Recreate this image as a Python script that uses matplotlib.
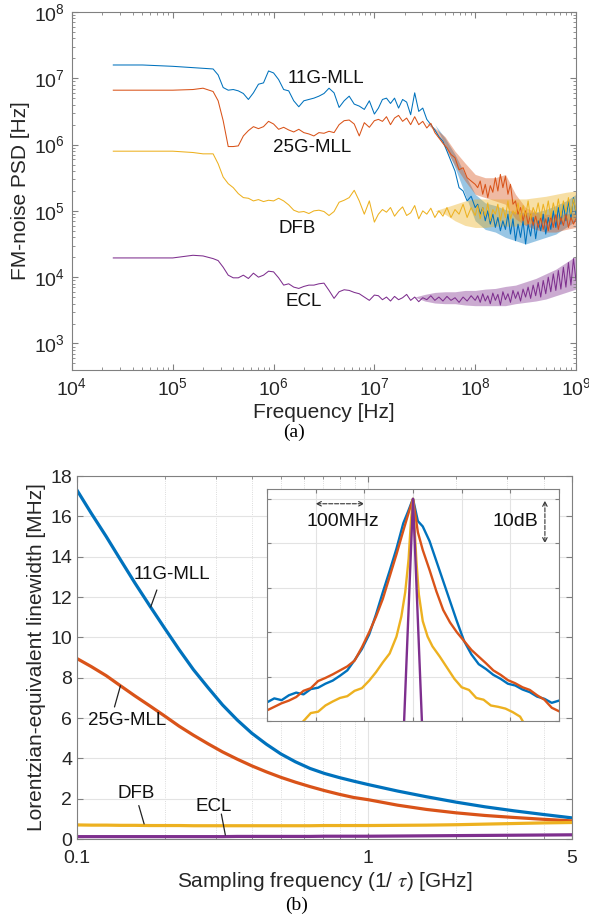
import numpy as np
import matplotlib.pyplot as plt
from matplotlib.ticker import LogLocator, NullFormatter, FixedLocator

plt.rcParams['font.family'] = ['Liberation Sans', 'DejaVu Sans']

blue = '#0072BD'
red = '#D95319'
yellow = '#EDB120'
purple = '#7E2F8E'
txt = '#262626'
edge = '#808080'

# ---- (a) FM-noise PSD, values as log10 ----
freq_exp = [4.41, 4.7, 5.0, 5.2, 5.3, 5.4,
            5.45, 5.5, 5.55, 5.6, 5.65, 5.7, 5.75, 5.8, 5.85, 5.9, 5.95, 6.0,
            6.05, 6.1, 6.15, 6.2, 6.25, 6.3, 6.35, 6.4, 6.45, 6.5, 6.55, 6.6,
            6.65, 6.7, 6.75, 6.8, 6.85, 6.9, 6.95, 7.0,
            7.04, 7.08, 7.12, 7.16, 7.2, 7.24, 7.28, 7.32, 7.36, 7.4, 7.44, 7.48,
            7.52, 7.56, 7.6, 7.64, 7.68, 7.72, 7.76, 7.8, 7.84, 7.88, 7.92, 7.96, 8.0,
            8.025, 8.05, 8.075, 8.1, 8.125, 8.15, 8.175, 8.2, 8.225, 8.25,
            8.275, 8.3, 8.325, 8.35, 8.375, 8.4, 8.425, 8.45, 8.475, 8.5,
            8.525, 8.55, 8.575, 8.6, 8.625, 8.65, 8.675, 8.7, 8.725, 8.75,
            8.775, 8.8, 8.825, 8.85, 8.875, 8.9, 8.925, 8.95, 8.975, 9.0]

psd_11g = [7.20, 7.20, 7.18, 7.16, 7.15, 7.14,
           7.05, 6.86, 6.82, 6.83, 6.81, 6.77, 6.68, 6.78, 6.91, 6.93, 7.11, 7.08,
           6.98, 6.83, 6.81, 6.66, 6.57, 6.66, 6.68, 6.70, 6.73, 6.77, 6.85, 6.78,
           6.56, 6.66, 6.73, 6.61, 6.58, 6.53, 6.66, 6.46,
           6.55, 6.68, 6.70, 6.62, 6.70, 6.55, 6.68, 6.64, 6.45, 6.78, 6.50, 6.55,
           6.38, 6.30, 6.22, 6.12, 6.05, 5.90, 5.75, 5.60, 5.35, 5.30, 5.15, 5.22, 5.05,
           5.10, 4.95, 5.05, 4.85, 5.00, 4.80, 4.95, 4.75, 4.90, 4.70,
           4.85, 4.72, 4.95, 4.65, 4.88, 4.55, 4.80, 4.60, 4.85, 4.50,
           4.80, 4.62, 4.90, 4.58, 4.85, 4.70, 4.95, 4.65, 4.90, 4.72,
           5.00, 4.75, 5.05, 4.80, 5.10, 4.85, 5.15, 4.88, 5.20, 4.95]

psd_25g = [6.82, 6.82, 6.82, 6.83, 6.85, 6.80,
           6.66, 6.36, 5.97, 5.97, 5.98, 6.13, 6.21, 6.27, 6.24, 6.27, 6.35, 6.31,
           6.23, 6.26, 6.22, 6.19, 6.23, 6.18, 6.16, 6.13, 6.18, 6.17, 6.20, 6.18,
           6.30, 6.36, 6.37, 6.31, 6.13, 6.33, 6.26, 6.36,
           6.38, 6.35, 6.42, 6.30, 6.40, 6.44, 6.35, 6.40, 6.30, 6.42, 6.30, 6.35,
           6.25, 6.32, 6.18, 6.10, 6.02, 5.95, 5.85, 5.80, 5.62, 5.65, 5.50, 5.45, 5.40,
           5.35, 5.45, 5.25, 5.40, 5.20, 5.38, 5.28, 5.50, 5.30, 5.55,
           5.35, 5.52, 5.25, 5.40, 5.10, 5.15, 4.95, 5.05, 4.85, 5.00,
           4.80, 4.95, 4.78, 4.92, 4.75, 4.90, 4.72, 4.88, 4.70, 4.92,
           4.75, 4.95, 4.72, 4.90, 4.78, 4.95, 4.75, 4.90, 4.80, 4.88]

psd_dfb = [5.90, 5.90, 5.90, 5.88, 5.86, 5.86,
           5.71, 5.51, 5.41, 5.35, 5.26, 5.20, 5.19, 5.15, 5.17, 5.14, 5.16, 5.15,
           5.19, 5.15, 5.09, 5.01, 4.98, 4.99, 4.96, 5.00, 5.01, 4.99, 4.93, 4.99,
           5.13, 5.16, 5.20, 5.31, 5.15, 4.95, 5.15, 4.83,
           4.95, 5.02, 4.98, 5.05, 4.92, 5.00, 5.06, 4.93, 4.97, 5.08, 4.88, 5.00,
           4.95, 5.04, 4.90, 5.00, 4.92, 5.05, 4.90, 5.02, 4.95, 5.10, 4.90, 5.05, 4.93,
           5.08, 4.88, 5.05, 4.92, 5.12, 4.85, 5.02, 4.95, 5.10, 4.85,
           5.05, 4.90, 5.15, 4.88, 5.00, 4.95, 5.12, 4.86, 5.08, 4.92,
           5.15, 4.88, 5.05, 4.95, 5.12, 4.90, 5.10, 4.94, 5.15, 4.90,
           5.12, 4.95, 5.18, 4.92, 5.15, 4.98, 5.20, 4.95, 5.18, 5.00]

psd_ecl = [4.29, 4.29, 4.29, 4.33, 4.32, 4.28,
           4.25, 4.15, 4.03, 3.99, 3.99, 4.03, 3.98, 4.06, 4.00, 4.03, 4.09, 4.08,
           3.99, 3.88, 3.90, 3.85, 3.83, 3.86, 3.88, 3.88, 3.90, 3.91, 3.80, 3.68,
           3.78, 3.81, 3.80, 3.77, 3.75, 3.70, 3.65, 3.73,
           3.72, 3.66, 3.70, 3.64, 3.71, 3.66, 3.69, 3.74, 3.65, 3.70, 3.63, 3.69,
           3.66, 3.72, 3.65, 3.70, 3.64, 3.71, 3.65, 3.69, 3.62, 3.70, 3.64, 3.72, 3.65,
           3.72, 3.62, 3.75, 3.64, 3.72, 3.60, 3.76, 3.65, 3.74, 3.58,
           3.78, 3.66, 3.75, 3.62, 3.80, 3.68, 3.78, 3.64, 3.82, 3.70,
           3.85, 3.68, 3.88, 3.72, 3.92, 3.70, 3.95, 3.75, 4.00, 3.78,
           4.05, 3.80, 4.10, 3.82, 4.15, 3.85, 4.22, 3.88, 4.28, 3.95]

# spread of the dense noise at high frequency (log10, upper / lower)
env_exp = [7.4, 7.5, 7.6, 7.7, 7.8, 7.9, 8.0, 8.1, 8.2, 8.3, 8.4, 8.5, 8.6, 8.7, 8.8, 8.9, 9.0]
env_11g_hi = [6.60, 6.50, 6.30, 6.10, 5.85, 5.55, 5.25, 5.12, 5.08, 5.02, 4.98, 4.98, 4.98, 5.02, 5.08, 5.15, 5.25]
env_11g_lo = [6.60, 6.50, 6.30, 6.00, 5.65, 5.25, 4.85, 4.72, 4.68, 4.60, 4.55, 4.50, 4.55, 4.60, 4.65, 4.75, 4.85]
env_25g_hi = [6.40, 6.35, 6.25, 6.12, 5.90, 5.72, 5.55, 5.50, 5.50, 5.55, 5.25, 5.05, 4.98, 4.95, 4.95, 4.95, 4.98]
env_25g_lo = [6.40, 6.35, 6.20, 5.95, 5.68, 5.45, 5.25, 5.20, 5.15, 5.10, 4.88, 4.78, 4.72, 4.68, 4.68, 4.72, 4.75]
env_dfb_hi = [5.00, 5.00, 5.00, 5.05, 5.10, 5.15, 5.18, 5.18, 5.18, 5.18, 5.18, 5.18, 5.20, 5.22, 5.25, 5.28, 5.30]
env_dfb_lo = [5.00, 5.00, 5.00, 4.95, 4.85, 4.78, 4.75, 4.75, 4.77, 4.77, 4.77, 4.80, 4.82, 4.82, 4.84, 4.86, 4.88]
env_ecl_hi = [3.70, 3.74, 3.77, 3.78, 3.78, 3.80, 3.80, 3.82, 3.83, 3.86, 3.88, 3.93, 3.98, 4.05, 4.12, 4.22, 4.32]
env_ecl_lo = [3.70, 3.64, 3.61, 3.60, 3.60, 3.58, 3.57, 3.57, 3.57, 3.57, 3.60, 3.62, 3.64, 3.67, 3.72, 3.77, 3.82]

# ---- (b) Lorentzian-equivalent linewidth [MHz] ----
fs_ghz = [0.1, 0.112, 0.126, 0.141, 0.158, 0.178, 0.2, 0.224, 0.251, 0.282,
          0.316, 0.355, 0.398, 0.447, 0.501, 0.562, 0.631, 0.708, 0.794, 0.891,
          1.0, 1.26, 1.58, 2.0, 2.51, 3.16, 3.98, 5.0]
lw_11g = [17.3, 16.15, 15.0, 13.85, 12.7, 11.55, 10.45, 9.4, 8.4, 7.5,
          6.65, 5.9, 5.25, 4.7, 4.22, 3.83, 3.5, 3.25, 3.05, 2.87,
          2.7, 2.38, 2.1, 1.83, 1.6, 1.4, 1.22, 1.05]
lw_25g = [8.95, 8.55, 8.1, 7.6, 7.1, 6.6, 6.1, 5.6, 5.15, 4.72,
          4.32, 3.96, 3.63, 3.33, 3.06, 2.82, 2.6, 2.4, 2.22, 2.06,
          1.95, 1.68, 1.47, 1.3, 1.17, 1.07, 0.98, 0.9]
lw_dfb = [0.7, 0.69, 0.69, 0.68, 0.68, 0.67, 0.67, 0.67, 0.66, 0.66,
          0.66, 0.66, 0.66, 0.66, 0.66, 0.66, 0.66, 0.67, 0.67, 0.67,
          0.67, 0.68, 0.69, 0.71, 0.74, 0.77, 0.8, 0.82]
lw_ecl = [0.12, 0.12, 0.12, 0.12, 0.12, 0.12, 0.12, 0.12, 0.12, 0.12,
          0.12, 0.13, 0.13, 0.13, 0.13, 0.13, 0.13, 0.14, 0.14, 0.14,
          0.14, 0.15, 0.16, 0.17, 0.18, 0.19, 0.2, 0.21]

# ---- inset: optical spectra, offset [MHz] vs dB ----
off_mll = [-300, -285, -270, -255, -240, -225, -210, -195, -180, -165, -150,
           -135, -120, -105, -90, -76, -62, -48, -34, -20, -10, -3, 0, 4, 10,
           20, 34, 48, 62, 76, 90, 105, 120, 135, 150, 165, 180, 195, 210,
           225, 240, 255, 270, 285, 300]
spec_11g = [-45.8, -44.9, -45.3, -44.2, -43.6, -44.0, -42.8, -42.5, -41.6, -40.9,
            -39.8, -38.6, -36.3, -33.8, -30.5, -26.0, -21.0, -16.2, -11.2, -5.5,
            -2.8, -0.8, 0.0, -2.0, -5.0, -6.2, -9.5, -14.0, -18.5, -23.0,
            -27.5, -32.0, -35.0, -37.2, -38.3, -39.6, -40.5, -41.6, -42.0, -42.9,
            -43.5, -44.5, -45.0, -45.9, -45.4]
spec_25g = [-47.6, -46.8, -46.0, -45.4, -44.6, -43.2, -42.6, -41.0, -40.3, -39.5,
            -38.6, -37.7, -36.4, -33.4, -30.0, -26.5, -22.5, -17.5, -12.5, -7.2,
            -3.5, -1.0, 0.0, -3.0, -7.5, -11.5, -16.0, -20.8, -25.0, -27.8,
            -30.0, -32.0, -34.0, -35.5, -37.0, -38.6, -39.6, -40.8, -41.5, -42.4,
            -43.0, -44.2, -45.2, -47.0, -47.8]
off_dfb = [-225, -210, -195, -180, -165, -150, -135, -120, -105, -90, -76, -62,
           -48, -34, -24, -16, -9, -4, 0, 3, 7, 12, 20, 30, 40, 55, 70, 85,
           100, 115, 130, 145, 160, 175, 190, 205, 220, 228]
spec_dfb = [-50.0, -48.2, -47.9, -46.5, -45.6, -44.8, -44.4, -43.2, -42.6, -40.9,
            -39.0, -36.8, -34.8, -31.0, -26.5, -21.0, -13.5, -4.5, 0.0, -6.0,
            -14.0, -21.5, -27.5, -31.0, -33.2, -35.5, -38.0, -40.5, -42.4, -43.0,
            -44.8, -45.2, -46.5, -46.8, -47.2, -48.0, -49.0, -50.5]
off_ecl = [-19, 0, 19]
spec_ecl = [-52.0, 0.0, -52.0]


def style_box(ax):
    for s in ax.spines.values():
        s.set_color(edge)
        s.set_linewidth(0.8)


fig = plt.figure(figsize=(5.89, 9.19), dpi=100)

# (a)
ax1 = fig.add_axes([0.1222, 0.5974, 0.8557, 0.3896])
f_hz = 10.0 ** np.array(freq_exp)
f_env = 10.0 ** np.array(env_exp)
traces = [(psd_11g, env_11g_lo, env_11g_hi, blue),
          (psd_25g, env_25g_lo, env_25g_hi, red),
          (psd_dfb, env_dfb_lo, env_dfb_hi, yellow),
          (psd_ecl, env_ecl_lo, env_ecl_hi, purple)]
for psd, lo, hi, c in traces:
    ax1.fill_between(f_env, 10.0 ** np.array(lo), 10.0 ** np.array(hi),
                     color=c, alpha=0.4, lw=0)
    ax1.loglog(f_hz, 10.0 ** np.array(psd), color=c, lw=0.75)
ax1.set_xlim(1e4, 1e9)
ax1.set_ylim(10 ** 2.6, 1e8)
ax1.xaxis.set_major_locator(LogLocator(base=10, numticks=10))
ax1.xaxis.set_minor_locator(LogLocator(base=10, subs=np.arange(2, 10), numticks=20))
ax1.xaxis.set_minor_formatter(NullFormatter())
ax1.yaxis.set_major_locator(LogLocator(base=10, numticks=10))
ax1.yaxis.set_minor_locator(LogLocator(base=10, subs=np.arange(2, 10), numticks=20))
ax1.yaxis.set_minor_formatter(NullFormatter())
ax1.tick_params(which='both', direction='in', top=True, right=True,
                color=edge, labelcolor=txt, labelsize=14)
ax1.tick_params(which='major', length=4, pad=5)
ax1.tick_params(which='minor', length=2)
style_box(ax1)
ax1.set_xlabel('Frequency [Hz]', fontsize=15, color=txt, labelpad=3)
ax1.set_ylabel('FM-noise PSD [Hz]', fontsize=15, color=txt, labelpad=3)
lab = dict(fontsize=13.5, va='center', color='#111111')
ax1.text(10 ** 6.14, 10 ** 7.0, '11G-MLL', **lab)
ax1.text(10 ** 5.99, 10 ** 5.96, '25G-MLL', **lab)
ax1.text(10 ** 6.05, 10 ** 4.74, 'DFB', **lab)
ax1.text(10 ** 6.12, 10 ** 3.63, 'ECL', **lab)
fig.text(0.5, 1 - 432 / 919, '(a)', family='Liberation Serif', fontsize=14,
         ha='center', va='center')

# (b)
ax2 = fig.add_axes([0.1307, 0.0870, 0.8404, 0.3950])
ax2.semilogx(fs_ghz, lw_11g, color=blue, lw=2.3)
ax2.semilogx(fs_ghz, lw_25g, color=red, lw=2.3)
ax2.semilogx(fs_ghz, lw_dfb, color=yellow, lw=2.3)
ax2.semilogx(fs_ghz, lw_ecl, color=purple, lw=2.3)
ax2.set_xlim(0.1, 5)
ax2.set_ylim(0, 18)
ax2.set_yticks(range(0, 19, 2))
ax2.xaxis.set_major_locator(FixedLocator([0.1, 1, 5]))
ax2.set_xticklabels(['0.1', '1', '5'])
ax2.xaxis.set_minor_locator(FixedLocator([0.2, 0.3, 0.4, 0.5, 0.6, 0.7, 0.8, 0.9, 2, 3, 4]))
ax2.xaxis.set_minor_formatter(NullFormatter())
ax2.grid(which='major', color='#e3e3e3', lw=0.8)
ax2.grid(which='minor', axis='x', color='#d0d0d0', lw=0.6, ls=':')
ax2.set_axisbelow(True)
ax2.tick_params(which='both', direction='in', top=True, right=True,
                color=edge, labelcolor=txt, labelsize=14)
ax2.tick_params(which='major', length=4)
ax2.tick_params(axis='x', which='major', pad=8)
ax2.tick_params(which='minor', length=2)
style_box(ax2)
ax2.set_xlabel(r'Sampling frequency (1/ $\tau$) [GHz]', fontsize=15, color=txt,
               labelpad=2, math_fontfamily='stix')
ax2.set_ylabel('Lorentzian-equivalent linewidth [MHz]', fontsize=15, color=txt, labelpad=3)

ax2.text(0.157, 13.1, '11G-MLL', **lab)
ax2.text(0.109, 5.88, '25G-MLL', **lab)
ax2.text(0.138, 2.24, 'DFB', **lab)
ax2.text(0.255, 1.6, 'ECL', **lab)
pointer = dict(arrowstyle='-', color='#222222', lw=0.9, shrinkA=0, shrinkB=0)
ax2.annotate('', xy=(0.179, 11.5), xytext=(0.188, 12.35), arrowprops=pointer)
ax2.annotate('', xy=(0.141, 7.6), xytext=(0.1345, 6.55), arrowprops=pointer)
ax2.annotate('', xy=(0.170, 0.75), xytext=(0.163, 1.66), arrowprops=pointer)
ax2.annotate('', xy=(0.323, 0.2), xytext=(0.313, 1.24), arrowprops=pointer)
fig.text(0.503, 1 - 905 / 919, '(b)', family='Liberation Serif', fontsize=14,
         ha='center', va='center')

# inset
ax3 = fig.add_axes([0.4533, 0.2154, 0.4958, 0.2524])
ax3.plot(off_mll, spec_11g, color=blue, lw=1.7)
ax3.plot(off_mll, spec_25g, color=red, lw=1.7)
ax3.plot(off_dfb, spec_dfb, color=yellow, lw=1.7)
ax3.plot(off_ecl, spec_ecl, color=purple, lw=1.7)
ax3.set_xlim(-300, 300)
ax3.set_ylim(-50, 2.2)
ax3.set_xticks(range(-300, 301, 100))
ax3.set_yticks(range(-50, 1, 10))
ax3.tick_params(direction='in', length=3, top=True, right=True, color=edge,
                labelleft=False, labelbottom=False)
ax3.grid(color='#e3e3e3', lw=0.8)
ax3.set_axisbelow(True)
style_box(ax3)
dash = dict(arrowstyle='<->', ls='--', color='#333333', lw=0.8,
            shrinkA=0, shrinkB=0, mutation_scale=8)
ax3.annotate('', xy=(-100, -1.1), xytext=(-200, -1.1), arrowprops=dash)
ax3.annotate('', xy=(271, -10.0), xytext=(271, -0.4), arrowprops=dash)
ax3.text(-218, -5.1, '100MHz', fontsize=14, va='center', color='#111111')
ax3.text(258, -5.1, '10dB', fontsize=14, va='center', ha='right', color='#111111')

fig.savefig('out.png', dpi=100)
